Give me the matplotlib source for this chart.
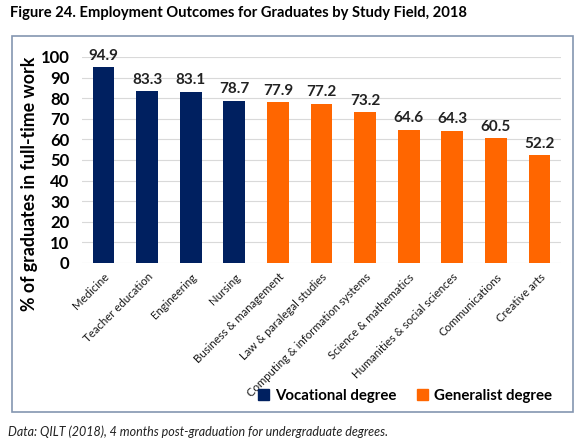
import matplotlib.pyplot as plt
from matplotlib.patches import Rectangle, Patch

plt.rcParams['font.family'] = ['Lato', 'DejaVu Sans']

fields = ['Medicine', 'Teacher education', 'Engineering', 'Nursing',
          'Business & management', 'Law & paralegal studies',
          'Computing & information systems', 'Science & mathematics',
          'Humanities & social sciences', 'Communications', 'Creative arts']
values = [94.9, 83.3, 83.1, 78.7, 77.9, 77.2, 73.2, 64.6, 64.3, 60.5, 52.2]
groups = ['Vocational degree'] * 4 + ['Generalist degree'] * 7
colours = {'Vocational degree': '#002060', 'Generalist degree': '#FF6600'}
yticks = list(range(0, 101, 10))

fig = plt.figure(figsize=(5.84, 4.45), dpi=100)
ax = fig.add_axes([0.140, 0.409, 0.821, 0.463])

# chart frame like the original Excel chart area
fig.patches.append(Rectangle((12 / 584, 1 - 412 / 445), 561 / 584, 376 / 445,
                             transform=fig.transFigure, fill=False,
                             edgecolor='#8496B0', linewidth=1.2))

bar_colours = [colours[g] for g in groups]
bars = ax.bar(range(len(fields)), values, width=0.5, color=bar_colours, zorder=3)
for b, v in zip(bars, values):
    ax.text(b.get_x() + b.get_width() / 2, v + 2.2, f'{v:.1f}', ha='center',
            va='bottom', fontsize=11, fontweight='bold', color='#222222')

ax.set_xlim(-0.5, len(fields) - 0.5)
ax.set_ylim(0, 100)
ax.set_yticks(yticks)
ax.set_yticklabels([str(t) for t in yticks], fontsize=12, fontweight='bold')
ax.set_xticks(range(len(fields)))
ax.set_xticklabels(fields, rotation=45, ha='right', rotation_mode='anchor',
                   fontsize=8.2, color='#1a1a1a')
ax.tick_params(axis='y', length=0, pad=9)
ax.tick_params(axis='x', length=0, pad=6)
ax.grid(axis='y', color='#D9D9D9', linewidth=0.8, zorder=0)
for s in ax.spines.values():
    s.set_visible(False)
fig.text(30 / 584, 1 - 184 / 445, '% of graduates in full-time work', fontsize=12.8,
         fontweight='bold', rotation=90, ha='center', va='center')

handles = [Patch(color=colours[k], label=k) for k in colours]
fig.legend(handles=handles, loc='center right', bbox_to_anchor=(565 / 584, 1 - 396 / 445),
           ncol=2, frameon=False, handlelength=0.75, handleheight=0.75,
           handletextpad=0.35, columnspacing=1.4,
           prop={'size': 10.8, 'weight': 'bold'})

fig.text(10 / 584, 1 - 13 / 445, 'Figure 24. Employment Outcomes for Graduates by Study Field, 2018',
         fontsize=10.6, fontweight='bold', va='center', ha='left')
fig.text(8 / 584, 1 - 432 / 445, 'Data: QILT (2018), 4 months post-graduation for undergraduate degrees.',
         fontsize=9, style='italic', va='center', ha='left', color='#222222')

fig.savefig('out.png', dpi=100)
